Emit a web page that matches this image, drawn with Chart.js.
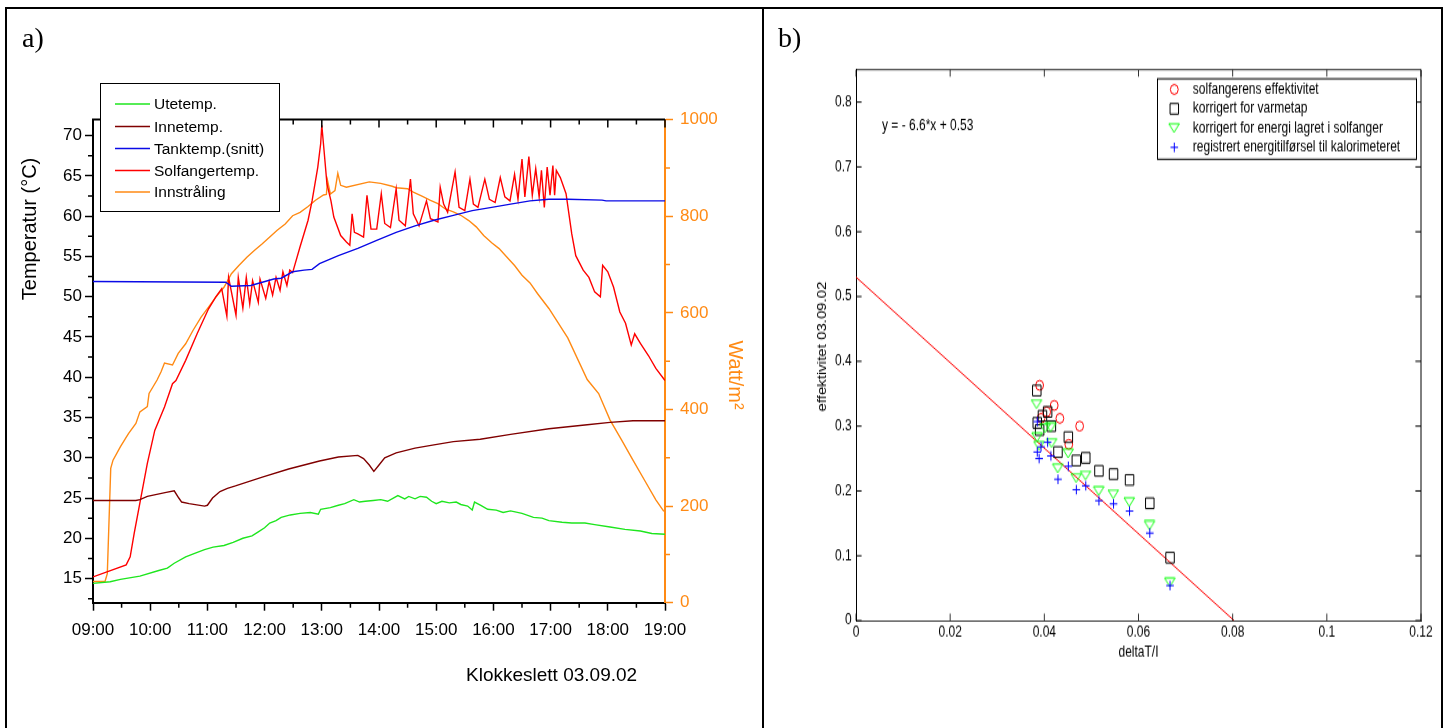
<!DOCTYPE html>
<html>
<head>
<meta charset="utf-8">
<script src="https://cdn.jsdelivr.net/npm/chart.js@4.4.1/dist/chart.umd.min.js"></script>
<style>
  html, body { margin: 0; padding: 0; background: #fff; width: 1447px; height: 728px; overflow: hidden; }
  canvas { position: absolute; top: 0; }
  .frame { position: absolute; background: #000; }
  .tag { position: absolute; font-family: 'Liberation Serif', 'Times New Roman', serif; font-size: 28px; line-height: 28px; color: #000; }
</style>
</head>
<body>
<canvas id="panelA" width="763" height="728" style="left:0px;width:763px;height:728px"></canvas>
<canvas id="panelB" width="676" height="582" style="left:765px;width:676px;height:728px"></canvas>
<div class="frame" style="left:5px;top:7px;width:1438px;height:2px"></div>
<div class="frame" style="left:5px;top:7px;width:2px;height:721px"></div>
<div class="frame" style="left:762px;top:7px;width:2px;height:721px"></div>
<div class="frame" style="left:1441px;top:7px;width:2px;height:721px"></div>
<div class="tag" style="left:22px;top:24px">a)</div>
<div class="tag" style="left:778px;top:24px">b)</div>
<script>
// ---------- panel a: temperatures and irradiance, 03.09.02 ----------
const clockTicks = ['09:00','10:00','11:00','12:00','13:00','14:00','15:00','16:00','17:00','18:00','19:00'];
const tempTicks = [15, 20, 25, 30, 35, 40, 45, 50, 55, 60, 65, 70];
const irradianceTicks = [0, 200, 400, 600, 800, 1000];
const irradianceTickLabels = ['0', '200', '400', '600', '800', '1000'];

// Utetemp. (outdoor)
const outdoorHours = [9.00, 9.30, 9.48, 9.82, 10.15, 10.30, 10.42, 10.62, 10.80, 10.95, 11.10, 11.29, 11.45, 11.62, 11.78, 11.89, 12.00, 12.09, 12.20, 12.29, 12.45, 12.62, 12.80, 12.94, 12.98, 13.15, 13.29, 13.40, 13.56, 13.66, 13.76, 13.90, 14.03, 14.15, 14.33, 14.45, 14.52, 14.63, 14.72, 14.83, 14.92, 15.00, 15.10, 15.23, 15.35, 15.43, 15.55, 15.63, 15.67, 15.78, 15.90, 16.05, 16.17, 16.30, 16.50, 16.70, 16.85, 16.97, 17.20, 17.37, 17.60, 17.77, 18.04, 18.30, 18.57, 18.77, 19.00];
const outdoorTemp  = [14.4, 14.6, 14.9, 15.3, 16.0, 16.3, 16.9, 17.7, 18.2, 18.6, 18.9, 19.1, 19.5, 20.0, 20.3, 20.8, 21.3, 21.9, 22.2, 22.6, 22.9, 23.1, 23.2, 23.0, 23.6, 23.8, 24.1, 24.3, 24.8, 24.5, 24.6, 24.7, 24.8, 24.6, 25.3, 24.9, 25.2, 24.9, 25.2, 25.1, 24.6, 24.3, 24.6, 24.4, 24.5, 24.2, 24.0, 23.5, 24.5, 24.1, 23.6, 23.5, 23.2, 23.4, 23.1, 22.6, 22.5, 22.2, 22.0, 21.9, 21.9, 21.7, 21.4, 21.1, 20.9, 20.6, 20.5];

// Innetemp. (indoor)
const indoorHours = [9.00, 9.75, 9.82, 9.95, 10.28, 10.42, 10.50, 10.55, 10.68, 10.95, 11.00, 11.09, 11.22, 11.35, 11.49, 11.96, 12.42, 12.96, 13.29, 13.63, 13.73, 13.83, 13.91, 14.00, 14.10, 14.30, 14.63, 14.96, 15.30, 15.77, 16.30, 16.97, 17.64, 18.04, 18.44, 19.00];
const indoorTemp  = [24.7, 24.7, 24.8, 25.2, 25.7, 25.9, 25.0, 24.5, 24.3, 24.0, 24.1, 25.0, 25.8, 26.2, 26.5, 27.6, 28.6, 29.6, 30.1, 30.3, 29.9, 29.1, 28.3, 29.1, 30.0, 30.6, 31.2, 31.6, 32.0, 32.3, 32.9, 33.6, 34.1, 34.4, 34.6, 34.6];

// Tanktemp.(snitt) (tank average)
const tankHours = [9.00, 11.32, 11.42, 11.76, 11.96, 12.16, 12.29, 12.49, 12.69, 12.83, 12.96, 13.29, 13.63, 13.96, 14.30, 14.63, 14.96, 15.30, 15.63, 15.97, 16.30, 16.64, 16.97, 17.30, 17.90, 17.97, 19.00];
const tankTemp  = [51.9, 51.8, 51.3, 51.4, 51.8, 52.2, 52.3, 53.1, 53.3, 53.4, 54.1, 55.1, 56.0, 57.0, 58.0, 58.8, 59.5, 60.1, 60.7, 61.1, 61.5, 61.9, 62.1, 62.1, 62.0, 61.9, 61.9];

// Solfangertemp. (collector)
const collectorHours = [9.00, 9.58, 9.65, 9.72, 9.82, 9.95, 10.08, 10.25, 10.39, 10.45, 10.62, 10.82, 11.02, 11.15, 11.25, 11.34, 11.37, 11.50, 11.54, 11.62, 11.68, 11.74, 11.79, 11.89, 11.92, 12.02, 12.08, 12.14, 12.20, 12.27, 12.32, 12.39, 12.44, 12.49, 12.62, 12.76, 12.83, 12.93, 12.98, 13.00, 13.04, 13.09, 13.16, 13.21, 13.33, 13.43, 13.49, 13.53, 13.57, 13.63, 13.73, 13.79, 13.86, 13.96, 14.04, 14.10, 14.20, 14.30, 14.35, 14.46, 14.55, 14.60, 14.70, 14.83, 14.90, 15.03, 15.07, 15.13, 15.20, 15.33, 15.40, 15.50, 15.59, 15.65, 15.73, 15.85, 15.93, 16.03, 16.12, 16.20, 16.29, 16.37, 16.43, 16.50, 16.55, 16.62, 16.68, 16.74, 16.80, 16.84, 16.89, 16.94, 16.99, 17.04, 17.07, 17.10, 17.17, 17.27, 17.37, 17.44, 17.57, 17.67, 17.77, 17.87, 17.91, 18.00, 18.10, 18.21, 18.31, 18.41, 18.47, 18.57, 18.71, 18.84, 19.00];
const collectorTemp  = [15.2, 16.7, 17.7, 20.6, 24.4, 29.3, 33.4, 36.3, 39.2, 39.6, 42.1, 45.4, 48.5, 50.0, 51.0, 47.6, 52.4, 47.7, 52.4, 48.6, 52.4, 49.1, 52.0, 49.3, 52.2, 49.8, 51.9, 50.2, 52.4, 50.8, 53.1, 51.4, 53.3, 53.0, 56.2, 59.5, 61.9, 66.1, 69.0, 71.3, 68.1, 64.0, 61.9, 59.9, 57.6, 56.8, 56.4, 60.3, 58.0, 57.8, 57.4, 62.6, 58.4, 58.4, 62.8, 59.1, 58.6, 63.4, 59.5, 58.8, 64.6, 60.3, 58.8, 61.9, 59.7, 59.3, 63.6, 61.5, 60.5, 65.5, 61.1, 60.7, 64.6, 61.5, 61.1, 64.6, 62.1, 61.7, 64.8, 62.4, 61.9, 65.2, 62.1, 67.1, 62.4, 67.4, 62.6, 65.9, 62.4, 65.7, 61.1, 66.1, 62.6, 66.3, 62.6, 65.7, 64.8, 62.8, 57.8, 55.1, 53.3, 52.4, 50.6, 50.0, 53.9, 53.1, 51.2, 48.1, 46.7, 44.0, 45.4, 44.2, 42.7, 41.1, 39.6];

// Innstråling (irradiance, W/m2)
const irradianceHours = [9.00, 9.21, 9.25, 9.31, 9.35, 9.48, 9.62, 9.75, 9.82, 9.95, 9.98, 10.05, 10.12, 10.19, 10.25, 10.39, 10.49, 10.62, 10.75, 10.89, 11.02, 11.15, 11.29, 11.42, 11.55, 11.69, 11.82, 11.96, 12.09, 12.22, 12.36, 12.49, 12.62, 12.76, 12.89, 13.03, 13.08, 13.10, 13.15, 13.23, 13.28, 13.33, 13.43, 13.83, 14.03, 14.23, 14.30, 14.50, 14.60, 14.76, 14.90, 15.03, 15.16, 15.30, 15.43, 15.57, 15.70, 15.83, 15.97, 16.10, 16.23, 16.37, 16.50, 16.64, 16.77, 16.97, 17.30, 17.64, 17.84, 18.04, 18.24, 18.44, 18.64, 18.84, 18.98];
const irradiance      = [44, 44, 60, 278, 295, 323, 350, 371, 395, 406, 433, 447, 461, 478, 496, 492, 516, 536, 564, 591, 612, 633, 653, 681, 698, 715, 729, 743, 757, 771, 784, 801, 808, 820, 833, 844, 845, 874, 846, 853, 889, 864, 860, 871, 868, 862, 859, 857, 850, 841, 833, 826, 815, 809, 802, 791, 778, 760, 745, 733, 716, 698, 678, 662, 640, 609, 548, 462, 433, 378, 337, 295, 254, 213, 189];

// ---------- panel b: collector efficiency vs deltaT/I ----------
const effTicksX = [0, 0.02, 0.04, 0.06, 0.08, 0.1, 0.12];
const effTickLabelsX = ['0', '0.02', '0.04', '0.06', '0.08', '0.1', '0.12'];
const effTicksY = [0, 0.1, 0.2, 0.3, 0.4, 0.5, 0.6, 0.7, 0.8];
const effTickLabelsY = ['0', '0.1', '0.2', '0.3', '0.4', '0.5', '0.6', '0.7', '0.8'];

const collectorEffX = [0.0390, 0.0393, 0.0405, 0.0421, 0.0433, 0.0452, 0.0475];
const collectorEffY = [0.363, 0.312, 0.322, 0.332, 0.312, 0.272, 0.300];

const heatLossX = [0.0384, 0.0385, 0.0390, 0.0396, 0.0407, 0.0415, 0.0429, 0.0451, 0.0468, 0.0488, 0.0516, 0.0547, 0.0581, 0.0624, 0.0667];
const heatLossY = [0.355, 0.305, 0.294, 0.316, 0.322, 0.300, 0.260, 0.283, 0.247, 0.251, 0.231, 0.226, 0.217, 0.181, 0.097];

const storedX = [0.0384, 0.0385, 0.0389, 0.0402, 0.0414, 0.0416, 0.0429, 0.0451, 0.0468, 0.0488, 0.0516, 0.0547, 0.0581, 0.0624, 0.0667];
const storedY = [0.334, 0.283, 0.270, 0.297, 0.298, 0.274, 0.235, 0.258, 0.220, 0.224, 0.200, 0.195, 0.183, 0.147, 0.059];

const calorimeterX = [0.0385, 0.0385, 0.0389, 0.0393, 0.0407, 0.0414, 0.0429, 0.0451, 0.0468, 0.0488, 0.0516, 0.0547, 0.0581, 0.0624, 0.0667];
const calorimeterY = [0.307, 0.260, 0.250, 0.268, 0.275, 0.254, 0.218, 0.238, 0.202, 0.208, 0.185, 0.180, 0.169, 0.135, 0.054];

const fitSlope = -6.6;
const fitIntercept = 0.53;

// ---------- shared styling ----------
const SANS = "'Liberation Sans', Arial, sans-serif";
const ORANGE = '#ff8a14';
Chart.defaults.font.family = SANS;

const toPoints = (xs, ys) => xs.map((x, i) => ({ x, y: ys[i] }));

function series(label, xs, ys, color, axis) {
  return {
    label, data: toPoints(xs, ys), yAxisID: axis,
    borderColor: color, backgroundColor: color, borderWidth: 1.4,
    pointRadius: 0, tension: 0, fill: false
  };
}

// Origin-style frame: top axis, minor ticks, legend box and axis titles
const originDecor = {
  id: 'originDecor',
  afterDraw(chart) {
    const { ctx, chartArea: a, scales: { x, y, y1 } } = chart;
    ctx.save();
    ctx.strokeStyle = '#000';
    ctx.lineWidth = 2;
    ctx.beginPath();
    ctx.moveTo(a.left - 1, a.top);
    ctx.lineTo(a.right, a.top);
    ctx.stroke();

    ctx.lineWidth = 1.5;
    ctx.beginPath();
    for (let k = 0; k <= 20; k++) {
      const px = x.getPixelForValue(9 + k / 2);
      const major = k % 2 === 0;
      ctx.moveTo(px, a.top);
      ctx.lineTo(px, a.top + (major ? 8 : 5));
      if (!major) { ctx.moveTo(px, a.bottom); ctx.lineTo(px, a.bottom + 5); }
    }
    for (let v = 12.5; v < 72; v += 5) {
      const py = y.getPixelForValue(v);
      ctx.moveTo(a.left, py); ctx.lineTo(a.left - 5, py);
    }
    ctx.stroke();

    ctx.strokeStyle = ORANGE;
    ctx.beginPath();
    for (let v = 100; v < 1000; v += 200) {
      const py = y1.getPixelForValue(v);
      ctx.moveTo(a.right, py); ctx.lineTo(a.right + 5, py);
    }
    ctx.stroke();

    // legend
    ctx.fillStyle = '#fff';
    ctx.fillRect(100, 83, 179, 128);
    ctx.strokeStyle = '#000';
    ctx.lineWidth = 1;
    ctx.strokeRect(100.5, 83.5, 179, 128);
    const rows = [104, 126.5, 148.5, 170.5, 192];
    ctx.font = '15.5px ' + SANS;
    ctx.textBaseline = 'middle';
    ctx.textAlign = 'left';
    chart.data.datasets.forEach((ds, i) => {
      ctx.strokeStyle = ds.borderColor;
      ctx.lineWidth = 1.5;
      ctx.beginPath();
      ctx.moveTo(115, rows[i]); ctx.lineTo(150, rows[i]);
      ctx.stroke();
      ctx.fillStyle = '#000';
      ctx.fillText(ds.label, 154, rows[i] + 1);
    });

    // axis titles
    ctx.fillStyle = '#000';
    ctx.font = '20px ' + SANS;
    ctx.textAlign = 'center';
    ctx.save();
    ctx.translate(30, 229);
    ctx.rotate(-Math.PI / 2);
    ctx.fillText('Temperatur (°C)', 0, 0);
    ctx.restore();

    ctx.fillStyle = ORANGE;
    ctx.save();
    ctx.translate(735, 375);
    ctx.rotate(Math.PI / 2);
    ctx.fillText('Watt/m²', 0, 0);
    ctx.restore();

    ctx.fillStyle = '#000';
    ctx.font = '19px ' + SANS;
    ctx.textAlign = 'left';
    ctx.fillText('Klokkeslett 03.09.02', 466, 676);
    ctx.restore();
  }
};

new Chart(document.getElementById('panelA'), {
  type: 'line',
  data: {
    datasets: [
      series('Utetemp.', outdoorHours, outdoorTemp, '#1ee61e', 'y'),
      series('Innetemp.', indoorHours, indoorTemp, '#800000', 'y'),
      series('Tanktemp.(snitt)', tankHours, tankTemp, '#0a0ae6', 'y'),
      series('Solfangertemp.', collectorHours, collectorTemp, '#ff0000', 'y'),
      series('Innstråling', irradianceHours, irradiance, '#ff8a14', 'y1')
    ]
  },
  options: {
    responsive: false,
    animation: false,
    events: [],
    layout: { padding: { top: 119.6, left: 0, right: 0, bottom: 0 } },
    plugins: { legend: { display: false }, tooltip: { enabled: false } },
    scales: {
      x: {
        type: 'linear', position: 'bottom', min: 9, max: 19,
        ticks: {
          stepSize: 1, autoSkip: false, maxRotation: 0, padding: 9, color: '#000',
          font: { size: 17 },
          callback: v => clockTicks[Math.round(v - 9)]
        },
        grid: { display: true, drawOnChartArea: false, drawTicks: true, tickLength: 8, tickWidth: 1.5, tickColor: '#000' },
        border: { display: true, color: '#000', width: 2 },
        afterFit: s => { s.height = 728 - 602.7; }
      },
      y: {
        position: 'left', min: 12, max: 72,
        afterBuildTicks: s => { s.ticks = tempTicks.map(v => ({ value: v })); },
        ticks: { padding: 3, color: '#000', font: { size: 17 } },
        grid: { display: true, drawOnChartArea: false, drawTicks: true, tickLength: 8, tickWidth: 1.5, tickColor: '#000' },
        border: { display: true, color: '#000', width: 2 },
        afterFit: s => { s.width = 93; }
      },
      y1: {
        position: 'right', min: 0, max: 1000,
        afterBuildTicks: s => { s.ticks = irradianceTicks.map(v => ({ value: v })); },
        ticks: { padding: 7, color: ORANGE, font: { size: 17 }, callback: (v, i) => irradianceTickLabels[i] },
        grid: { display: true, drawOnChartArea: false, drawTicks: true, tickLength: 8, tickWidth: 1.5, tickColor: ORANGE },
        border: { display: true, color: ORANGE, width: 2 },
        afterFit: s => { s.width = 763 - 665; }
      }
    }
  },
  plugins: [originDecor]
});

// ---------- panel b ----------
function downTriangle(color, w, h) {
  const c = document.createElement('canvas');
  c.width = Math.ceil(w) + 2;
  c.height = Math.ceil(h) + 2;
  const g = c.getContext('2d');
  g.strokeStyle = color;
  g.lineWidth = 1;
  g.beginPath();
  g.moveTo(1, 1); g.lineTo(w + 1, 1); g.lineTo(w / 2 + 1, h + 1); g.closePath();
  g.stroke();
  return c;
}
const triangleMark = downTriangle('#00ff00', 10.5, 7);

function marker(label, xs, ys, color, style, radius, order) {
  return {
    type: 'scatter', label, data: toPoints(xs, ys), order,
    pointStyle: style, pointRadius: radius, pointBorderWidth: 1,
    borderColor: color, backgroundColor: 'rgba(0,0,0,0)'
  };
}

function drawMark(ctx, ds, cx, cy) {
  const st = ds.pointStyle, r = ds.pointRadius;
  ctx.strokeStyle = ds.borderColor;
  ctx.lineWidth = 1;
  ctx.beginPath();
  if (st === 'circle') {
    ctx.arc(cx, cy, r, 0, Math.PI * 2);
  } else if (st === 'rect') {
    const h = r * Math.SQRT1_2;
    ctx.rect(cx - h, cy - h, 2 * h, 2 * h);
  } else if (st === 'cross') {
    ctx.moveTo(cx - r, cy); ctx.lineTo(cx + r, cy);
    ctx.moveTo(cx, cy - r); ctx.lineTo(cx, cy + r);
  } else {
    ctx.drawImage(st, cx - st.width / 2, cy - st.height / 2);
  }
  ctx.stroke();
}

// MATLAB-style box: inward ticks on all sides, legend, fit label, axis labels
const matlabDecor = {
  id: 'matlabDecor',
  afterDraw(chart) {
    const { ctx, chartArea: a, scales: { x, y } } = chart;
    const tick = 5.6;
    ctx.save();
    ctx.strokeStyle = '#000';
    ctx.lineWidth = 0.8;
    ctx.beginPath();
    ctx.moveTo(a.left, a.top); ctx.lineTo(a.right, a.top);
    effTicksX.forEach(v => {
      const px = x.getPixelForValue(v);
      ctx.moveTo(px, a.bottom); ctx.lineTo(px, a.bottom - tick);
      ctx.moveTo(px, a.top); ctx.lineTo(px, a.top + tick);
    });
    ctx.stroke();
    ctx.lineWidth = 1;
    ctx.beginPath();
    ctx.moveTo(a.right, a.top); ctx.lineTo(a.right, a.bottom);
    effTicksY.forEach(v => {
      const py = y.getPixelForValue(v);
      ctx.moveTo(a.left, py); ctx.lineTo(a.left + tick, py);
      ctx.moveTo(a.right, py); ctx.lineTo(a.right - tick, py);
    });
    ctx.stroke();

    // legend
    ctx.fillStyle = '#fff';
    ctx.fillRect(392, 63, 259, 64.3);
    ctx.strokeStyle = '#000';
    ctx.lineWidth = 1;
    ctx.strokeRect(392.5, 63, 259, 64.3);
    const rows = [71.5, 87.0, 102.3, 117.8];
    ctx.font = '12px ' + SANS;
    ctx.textAlign = 'left';
    ctx.textBaseline = 'middle';
    chart.data.datasets.filter(ds => ds.type === 'scatter').forEach((ds, i) => {
      drawMark(ctx, ds, 409.3, rows[i]);
      ctx.fillStyle = '#000';
      ctx.fillText(ds.label, 427.8, rows[i]);
    });

    // fitted line equation
    ctx.fillStyle = '#000';
    ctx.fillText('y = - ' + Math.abs(fitSlope) + '*x + ' + fitIntercept, 117, 100.4);

    ctx.textAlign = 'center';
    ctx.fillText('deltaT/I', (a.left + a.right) / 2, 521.6);
    ctx.save();
    ctx.translate(58, 277);
    ctx.rotate(-Math.PI / 2);
    ctx.fillText('effektivitet 03.09.02', 0, 0);
    ctx.restore();
    ctx.restore();
  }
};

new Chart(document.getElementById('panelB'), {
  type: 'scatter',
  data: {
    datasets: [
      marker('solfangerens effektivitet', collectorEffX, collectorEffY, '#ff0000', 'circle', 3.9, 4),
      marker('korrigert for varmetap', heatLossX, heatLossY, '#000000', 'rect', 6, 3),
      marker('korrigert for energi lagret i solfanger', storedX, storedY, '#00ff00', triangleMark, 5, 2),
      marker('registrert energitilførsel til kalorimeteret', calorimeterX, calorimeterY, '#0000ff', 'cross', 3.8, 1),
      {
        type: 'line', label: 'fit', order: 5,
        data: [{ x: 0, y: fitIntercept }, { x: -fitIntercept / fitSlope, y: 0 }],
        borderColor: '#ff0000', borderWidth: 1, pointRadius: 0, fill: false
      }
    ]
  },
  options: {
    responsive: false,
    animation: false,
    events: [],
    layout: { padding: { top: 55.7, left: 0, right: 20, bottom: 0 } },
    plugins: { legend: { display: false }, tooltip: { enabled: false } },
    scales: {
      x: {
        type: 'linear', min: 0, max: 0.12,
        afterBuildTicks: s => { s.ticks = effTicksX.map(v => ({ value: v })); },
        ticks: {
          padding: 2.7, color: '#000', font: { size: 12 }, maxRotation: 0, autoSkip: false,
          callback: (v, i) => effTickLabelsX[i]
        },
        grid: { display: false, drawTicks: false },
        border: { display: true, color: '#000', width: 0.8 },
        afterFit: s => { s.height = 582 - 496.1; }
      },
      y: {
        min: 0, max: 0.85,
        afterBuildTicks: s => { s.ticks = effTicksY.map(v => ({ value: v })); },
        ticks: { padding: 4.3, color: '#000', font: { size: 12 }, callback: (v, i) => effTickLabelsY[i] },
        grid: { display: false, drawTicks: false },
        border: { display: true, color: '#000', width: 1 },
        afterFit: s => { s.width = 91; }
      }
    }
  },
  plugins: [matlabDecor]
});
</script>
</body>
</html>
